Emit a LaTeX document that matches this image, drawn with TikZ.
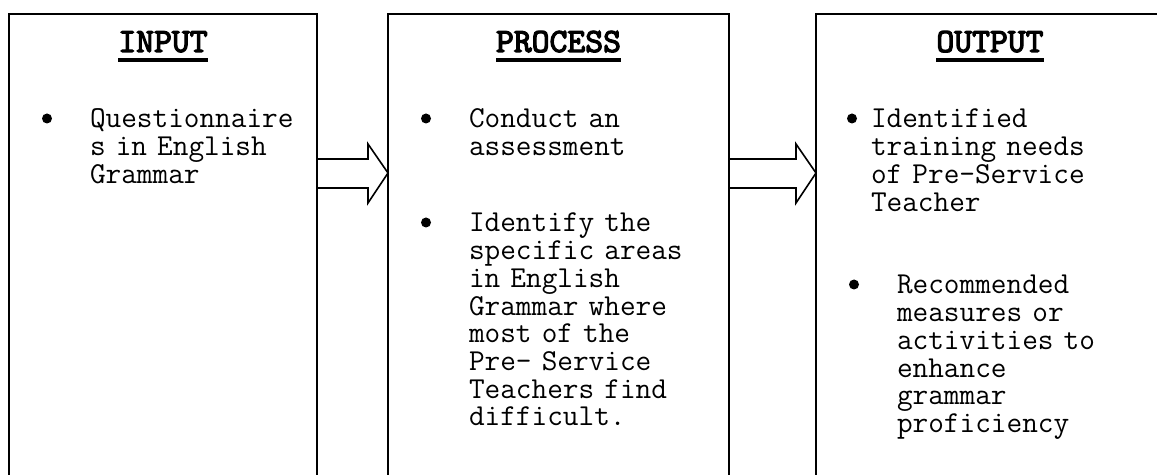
\documentclass[tikz,border=0pt]{standalone}
\usepackage{fontspec}
\newfontfamily\headfont{lmmono10-regular.otf}[FakeBold=3.5]
\usetikzlibrary{calc}

\begin{document}
\begin{tikzpicture}[x=0.5pt, y=-0.5pt,
  stage/.style = {draw, line width=1pt, anchor=north west,
    inner sep=0pt, outer sep=0pt, minimum height=253pt},
  heading/.style = {anchor=base, inner sep=0pt, outer sep=0pt,
    font=\headfont\fontsize{17}{20}\selectfont},
  item/.style = {anchor=base west, inner sep=0pt, outer sep=0pt,
    text width=130pt, align=left,
    font=\ttfamily\fontsize{15.2}{13.85}\selectfont},
  dot/.style = {circle, fill, inner sep=0pt, minimum size=5pt},
  flow/.style = {draw, line width=0.8pt, line join=miter}]
  \useasboundingbox (0,0) rectangle (1157,475);

  \node[stage, minimum width=154pt] (input) at (9,14) {};
  \node[stage, minimum width=170.5pt] (process) at (388,14) {};
  \node[stage, minimum width=174pt] (output) at (816,14) {};

  \node[heading] (inhead) at (input.north |- 0,52) {INPUT};
  \node[heading] (prhead) at (process.north |- 0,52) {PROCESS};
  \node[heading] (outhead) at (output.north |- 0,52) {OUTPUT};
  \foreach \h in {inhead, prhead, outhead}
    \draw[line width=1.75pt] ([yshift=-4pt]\h.base west) -- ([yshift=-4pt]\h.base east);

  \node[item] (in1) at (90,128) {Questionnaire\\s in English\\Grammar};
  \node[item] (pr1) at (469,128) {Conduct an\\assessment};
  \node[item] (pr2) at (469,232) {Identify the\\specific areas\\in English\\Grammar where\\most of the\\Pre- Service\\Teachers find\\difficult.};
  \node[item] (out1) at (871,128) {Identified\\training needs\\of Pre-Service\\Teacher};
  \node[item] (out2) at (897,294) {Recommended\\measures or\\activities to\\enhance\\grammar\\proficiency};

  \foreach \i in {in1, pr1, pr2, out2}
    \node[dot] (\i dot) at ($(\i.base west)+(-43,-9.5)$) {};
  \node[dot] (out1dot) at ($(out1.base west)+(-19,-9.5)$) {};

  \foreach \a/\b in {input/process, process/output}
    \draw[flow] ($(\a.north east)+(0,145)$) -- ($(\b.north west)+(-20,145)$)
      -- ($(\b.north west)+(-20,130)$) -- ($(\b.north west)+(0,159)$)
      -- ($(\b.north west)+(-20,189)$) -- ($(\b.north west)+(-20,174)$)
      -- ($(\a.north east)+(0,174)$);
\end{tikzpicture}
\end{document}
